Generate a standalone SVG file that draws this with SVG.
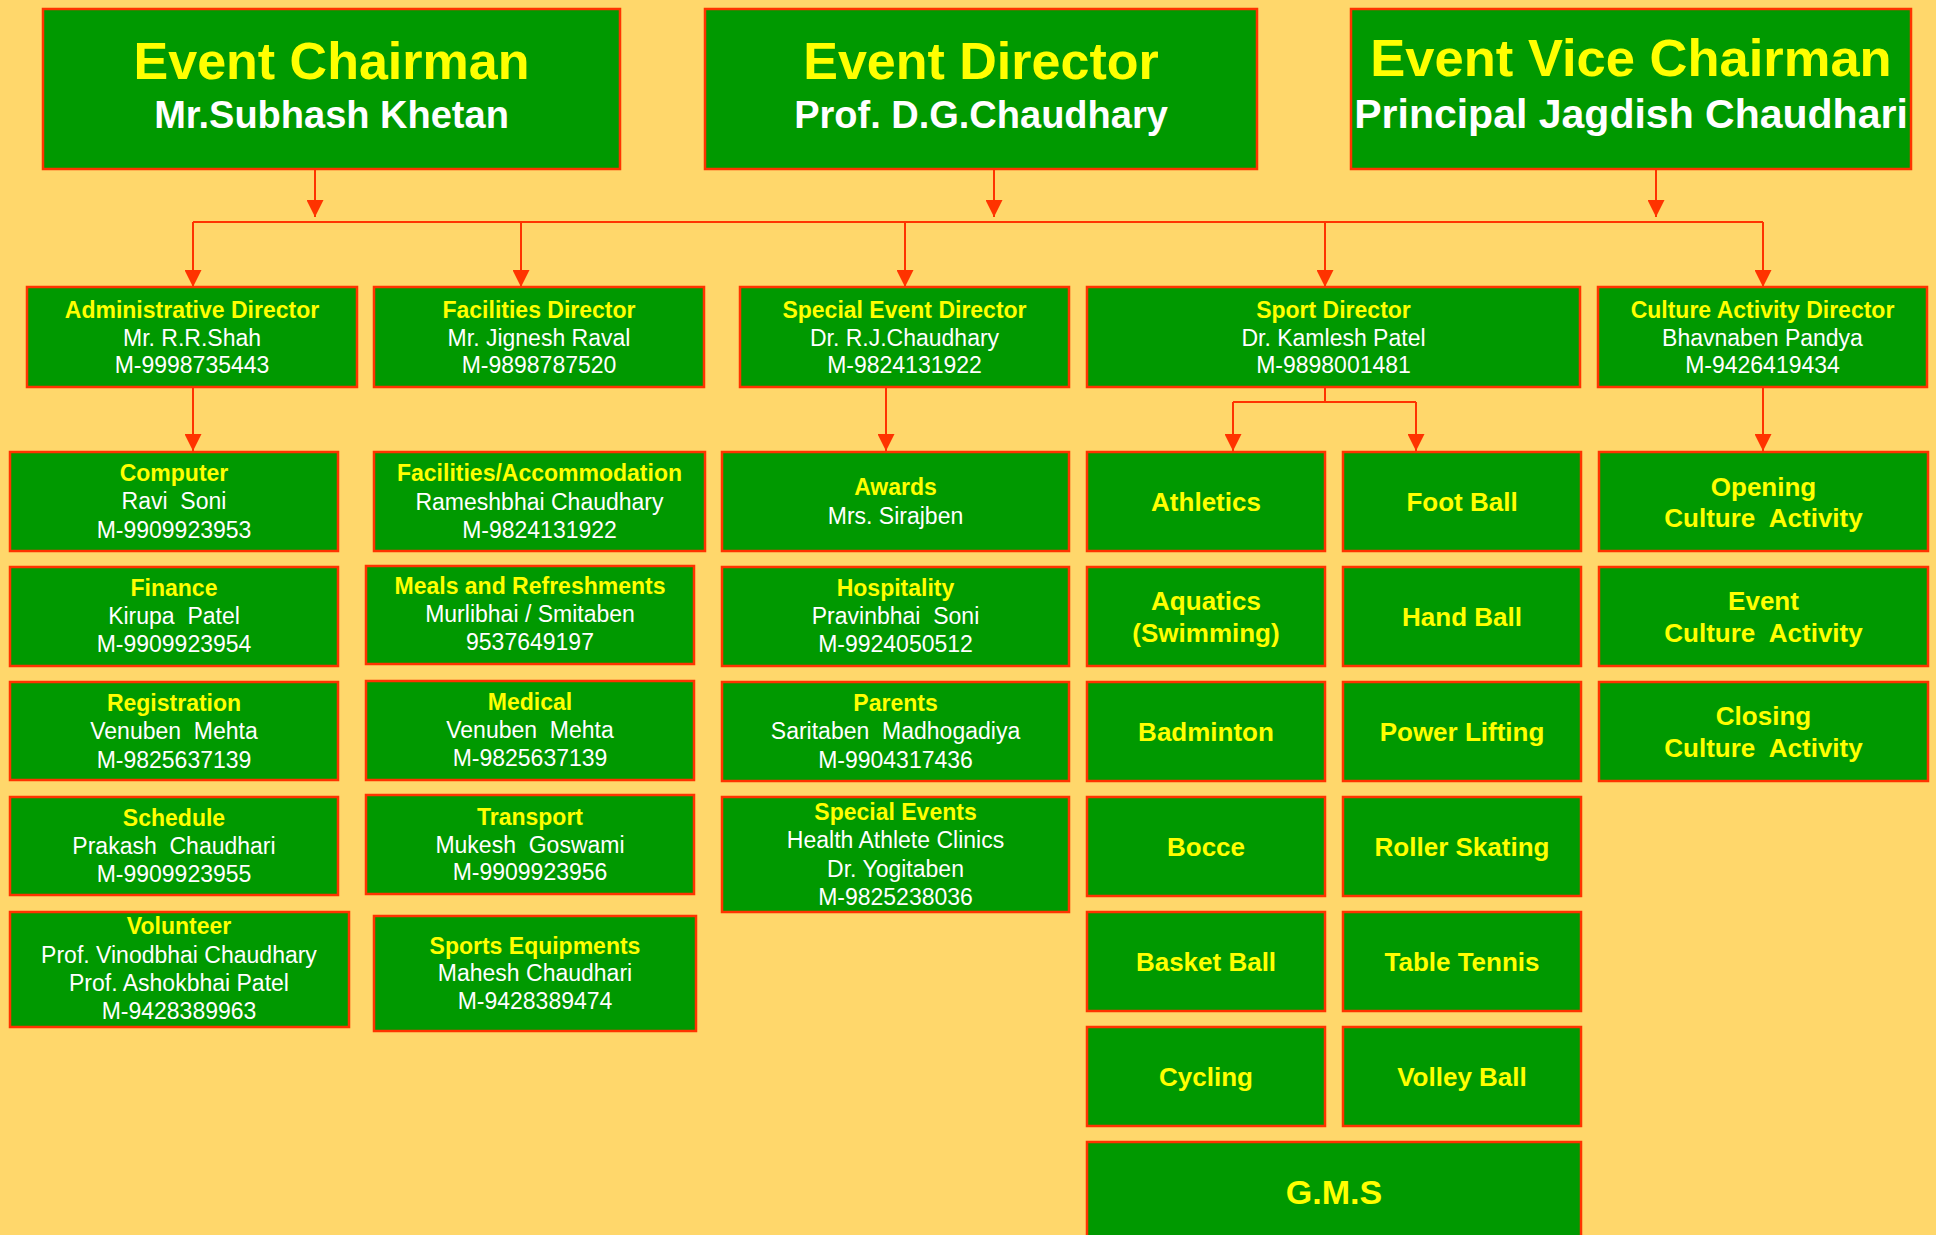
<svg xmlns="http://www.w3.org/2000/svg" width="1936" height="1235" viewBox="0 0 1936 1235">
<style>
.bx{fill:#009900;stroke:#FF3300;stroke-width:2.5}
.t{font-family:"Liberation Sans",Arial,sans-serif;text-anchor:middle}
.big{font-size:52px;font-weight:bold;fill:#FFFF00}
.sub{font-size:38px;font-weight:bold;fill:#FFFFFF}
.h{font-size:23px;font-weight:bold;fill:#FFFF00}
.n{font-size:23px;fill:#FFFFFF}
.sp{font-size:26px;font-weight:bold;fill:#FFFF00}
.g{font-size:34px;font-weight:bold;fill:#FFFF00}
.ln{stroke:#FF3300;stroke-width:2;fill:none}
</style>
<defs>
<marker id="ah" viewBox="0 0 17 17" refX="17" refY="8.5" markerWidth="17" markerHeight="17" markerUnits="userSpaceOnUse" orient="auto">
<path d="M0,0 L17,8.5 L0,17 Z" fill="#FF3300"/>
</marker>
</defs>
<rect width="1936" height="1235" fill="#FFD76B"/>

<g id="connectors">
<line class="ln" x1="315" y1="170" x2="315" y2="217" marker-end="url(#ah)"/>
<line class="ln" x1="994" y1="170" x2="994" y2="217" marker-end="url(#ah)"/>
<line class="ln" x1="1656" y1="170" x2="1656" y2="217" marker-end="url(#ah)"/>
<line class="ln" x1="193" y1="222" x2="1763" y2="222"/>
<line class="ln" x1="193" y1="222" x2="193" y2="287" marker-end="url(#ah)"/>
<line class="ln" x1="521" y1="222" x2="521" y2="287" marker-end="url(#ah)"/>
<line class="ln" x1="905" y1="222" x2="905" y2="287" marker-end="url(#ah)"/>
<line class="ln" x1="1325" y1="222" x2="1325" y2="287" marker-end="url(#ah)"/>
<line class="ln" x1="1763" y1="222" x2="1763" y2="287" marker-end="url(#ah)"/>
<line class="ln" x1="193" y1="387" x2="193" y2="451" marker-end="url(#ah)"/>
<line class="ln" x1="886" y1="387" x2="886" y2="451" marker-end="url(#ah)"/>
<polyline class="ln" points="1325,387 1325,402"/>
<line class="ln" x1="1233" y1="402" x2="1416" y2="402"/>
<line class="ln" x1="1233" y1="402" x2="1233" y2="451" marker-end="url(#ah)"/>
<line class="ln" x1="1416" y1="402" x2="1416" y2="451" marker-end="url(#ah)"/>
<line class="ln" x1="1763" y1="387" x2="1763" y2="451" marker-end="url(#ah)"/>
</g>

<g id="event-chairman">
<rect class="bx" x="43" y="9" width="577" height="160"/>
<text class="t big" x="331.5" y="79">Event Chairman</text>
<text class="t sub" x="331.5" y="128">Mr.Subhash Khetan</text>
</g>
<g id="event-director">
<rect class="bx" x="705" y="9" width="552" height="160"/>
<text class="t big" x="981" y="79">Event Director</text>
<text class="t sub" x="981" y="128">Prof. D.G.Chaudhary</text>
</g>
<g id="event-vice-chairman">
<rect class="bx" x="1351" y="9" width="560" height="160"/>
<text class="t big" x="1631" y="76" style="font-size:52.5px">Event Vice Chairman</text>
<text class="t sub" x="1631" y="128" style="font-size:41px">Principal Jagdish Chaudhari</text>
</g>

<g id="administrative-director">
<rect class="bx" x="27" y="287" width="330" height="100"/>
<text class="t h" x="192" y="318">Administrative Director</text>
<text class="t n" x="192" y="346">Mr. R.R.Shah</text>
<text class="t n" x="192" y="373">M-9998735443</text>
</g>
<g id="facilities-director">
<rect class="bx" x="374" y="287" width="330" height="100"/>
<text class="t h" x="539" y="318">Facilities Director</text>
<text class="t n" x="539" y="346">Mr. Jignesh Raval</text>
<text class="t n" x="539" y="373">M-9898787520</text>
</g>
<g id="special-event-director">
<rect class="bx" x="740" y="287" width="329" height="100"/>
<text class="t h" x="904.5" y="318">Special Event Director</text>
<text class="t n" x="904.5" y="346">Dr. R.J.Chaudhary</text>
<text class="t n" x="904.5" y="373">M-9824131922</text>
</g>
<g id="sport-director">
<rect class="bx" x="1087" y="287" width="493" height="100"/>
<text class="t h" x="1333.5" y="318">Sport Director</text>
<text class="t n" x="1333.5" y="346">Dr. Kamlesh Patel</text>
<text class="t n" x="1333.5" y="373">M-9898001481</text>
</g>
<g id="culture-activity-director">
<rect class="bx" x="1598" y="287" width="329" height="100"/>
<text class="t h" x="1762.5" y="318">Culture Activity Director</text>
<text class="t n" x="1762.5" y="346">Bhavnaben Pandya</text>
<text class="t n" x="1762.5" y="373">M-9426419434</text>
</g>

<g id="computer">
<rect class="bx" x="10" y="452" width="328" height="99"/>
<text class="t h" x="174" y="481">Computer</text>
<text class="t n" x="174" y="509" xml:space="preserve">Ravi  Soni</text>
<text class="t n" x="174" y="538">M-9909923953</text>
</g>
<g id="finance">
<rect class="bx" x="10" y="567" width="328" height="99"/>
<text class="t h" x="174" y="596">Finance</text>
<text class="t n" x="174" y="624" xml:space="preserve">Kirupa  Patel</text>
<text class="t n" x="174" y="652">M-9909923954</text>
</g>
<g id="registration">
<rect class="bx" x="10" y="682" width="328" height="98"/>
<text class="t h" x="174" y="711">Registration</text>
<text class="t n" x="174" y="739" xml:space="preserve">Venuben  Mehta</text>
<text class="t n" x="174" y="768">M-9825637139</text>
</g>
<g id="schedule">
<rect class="bx" x="10" y="797" width="328" height="98"/>
<text class="t h" x="174" y="826">Schedule</text>
<text class="t n" x="174" y="854" xml:space="preserve">Prakash  Chaudhari</text>
<text class="t n" x="174" y="882">M-9909923955</text>
</g>
<g id="volunteer">
<rect class="bx" x="10" y="912" width="339" height="115"/>
<text class="t h" x="179" y="934">Volunteer</text>
<text class="t n" x="179" y="963">Prof. Vinodbhai Chaudhary</text>
<text class="t n" x="179" y="991">Prof. Ashokbhai Patel</text>
<text class="t n" x="179" y="1019">M-9428389963</text>
</g>

<g id="facilities-accommodation">
<rect class="bx" x="374" y="452" width="331" height="99"/>
<text class="t h" x="539.5" y="481">Facilities/Accommodation</text>
<text class="t n" x="539.5" y="510">Rameshbhai Chaudhary</text>
<text class="t n" x="539.5" y="538">M-9824131922</text>
</g>
<g id="meals">
<rect class="bx" x="366" y="566" width="328" height="98"/>
<text class="t h" x="530" y="594">Meals and Refreshments</text>
<text class="t n" x="530" y="622">Murlibhai / Smitaben</text>
<text class="t n" x="530" y="650">9537649197</text>
</g>
<g id="medical">
<rect class="bx" x="366" y="681" width="328" height="99"/>
<text class="t h" x="530" y="710">Medical</text>
<text class="t n" x="530" y="738" xml:space="preserve">Venuben  Mehta</text>
<text class="t n" x="530" y="766">M-9825637139</text>
</g>
<g id="transport">
<rect class="bx" x="366" y="795" width="328" height="99"/>
<text class="t h" x="530" y="825">Transport</text>
<text class="t n" x="530" y="853" xml:space="preserve">Mukesh  Goswami</text>
<text class="t n" x="530" y="880">M-9909923956</text>
</g>
<g id="sports-equipments">
<rect class="bx" x="374" y="916" width="322" height="115"/>
<text class="t h" x="535" y="954">Sports Equipments</text>
<text class="t n" x="535" y="981">Mahesh Chaudhari</text>
<text class="t n" x="535" y="1009">M-9428389474</text>
</g>

<g id="awards">
<rect class="bx" x="722" y="452" width="347" height="99"/>
<text class="t h" x="895.5" y="495">Awards</text>
<text class="t n" x="895.5" y="524">Mrs. Sirajben</text>
</g>
<g id="hospitality">
<rect class="bx" x="722" y="567" width="347" height="99"/>
<text class="t h" x="895.5" y="596">Hospitality</text>
<text class="t n" x="895.5" y="624" xml:space="preserve">Pravinbhai  Soni</text>
<text class="t n" x="895.5" y="652">M-9924050512</text>
</g>
<g id="parents">
<rect class="bx" x="722" y="682" width="347" height="99"/>
<text class="t h" x="895.5" y="711">Parents</text>
<text class="t n" x="895.5" y="739" xml:space="preserve">Saritaben  Madhogadiya</text>
<text class="t n" x="895.5" y="768">M-9904317436</text>
</g>
<g id="special-events">
<rect class="bx" x="722" y="797" width="347" height="115"/>
<text class="t h" x="895.5" y="820">Special Events</text>
<text class="t n" x="895.5" y="848">Health Athlete Clinics</text>
<text class="t n" x="895.5" y="877">Dr. Yogitaben</text>
<text class="t n" x="895.5" y="905">M-9825238036</text>
</g>

<g id="athletics">
<rect class="bx" x="1087" y="452" width="238" height="99"/>
<text class="t sp" x="1206" y="511">Athletics</text>
</g>
<g id="aquatics">
<rect class="bx" x="1087" y="567" width="238" height="99"/>
<text class="t sp" x="1206" y="610">Aquatics</text>
<text class="t sp" x="1206" y="642">(Swimming)</text>
</g>
<g id="badminton">
<rect class="bx" x="1087" y="682" width="238" height="99"/>
<text class="t sp" x="1206" y="741">Badminton</text>
</g>
<g id="bocce">
<rect class="bx" x="1087" y="797" width="238" height="99"/>
<text class="t sp" x="1206" y="856">Bocce</text>
</g>
<g id="basket-ball">
<rect class="bx" x="1087" y="912" width="238" height="99"/>
<text class="t sp" x="1206" y="971">Basket Ball</text>
</g>
<g id="cycling">
<rect class="bx" x="1087" y="1027" width="238" height="99"/>
<text class="t sp" x="1206" y="1086">Cycling</text>
</g>
<g id="foot-ball">
<rect class="bx" x="1343" y="452" width="238" height="99"/>
<text class="t sp" x="1462" y="511">Foot Ball</text>
</g>
<g id="hand-ball">
<rect class="bx" x="1343" y="567" width="238" height="99"/>
<text class="t sp" x="1462" y="626">Hand Ball</text>
</g>
<g id="power-lifting">
<rect class="bx" x="1343" y="682" width="238" height="99"/>
<text class="t sp" x="1462" y="741">Power Lifting</text>
</g>
<g id="roller-skating">
<rect class="bx" x="1343" y="797" width="238" height="99"/>
<text class="t sp" x="1462" y="856">Roller Skating</text>
</g>
<g id="table-tennis">
<rect class="bx" x="1343" y="912" width="238" height="99"/>
<text class="t sp" x="1462" y="971">Table Tennis</text>
</g>
<g id="volley-ball">
<rect class="bx" x="1343" y="1027" width="238" height="99"/>
<text class="t sp" x="1462" y="1086">Volley Ball</text>
</g>
<g id="gms">
<rect class="bx" x="1087" y="1142" width="494" height="110"/>
<text class="t g" x="1334" y="1204">G.M.S</text>
</g>

<g id="opening-culture">
<rect class="bx" x="1599" y="452" width="329" height="99"/>
<text class="t sp" x="1763.5" y="496">Opening</text>
<text class="t sp" x="1763.5" y="527" xml:space="preserve">Culture  Activity</text>
</g>
<g id="event-culture">
<rect class="bx" x="1599" y="567" width="329" height="99"/>
<text class="t sp" x="1763.5" y="610">Event</text>
<text class="t sp" x="1763.5" y="642" xml:space="preserve">Culture  Activity</text>
</g>
<g id="closing-culture">
<rect class="bx" x="1599" y="682" width="329" height="99"/>
<text class="t sp" x="1763.5" y="725">Closing</text>
<text class="t sp" x="1763.5" y="757" xml:space="preserve">Culture  Activity</text>
</g>
</svg>
